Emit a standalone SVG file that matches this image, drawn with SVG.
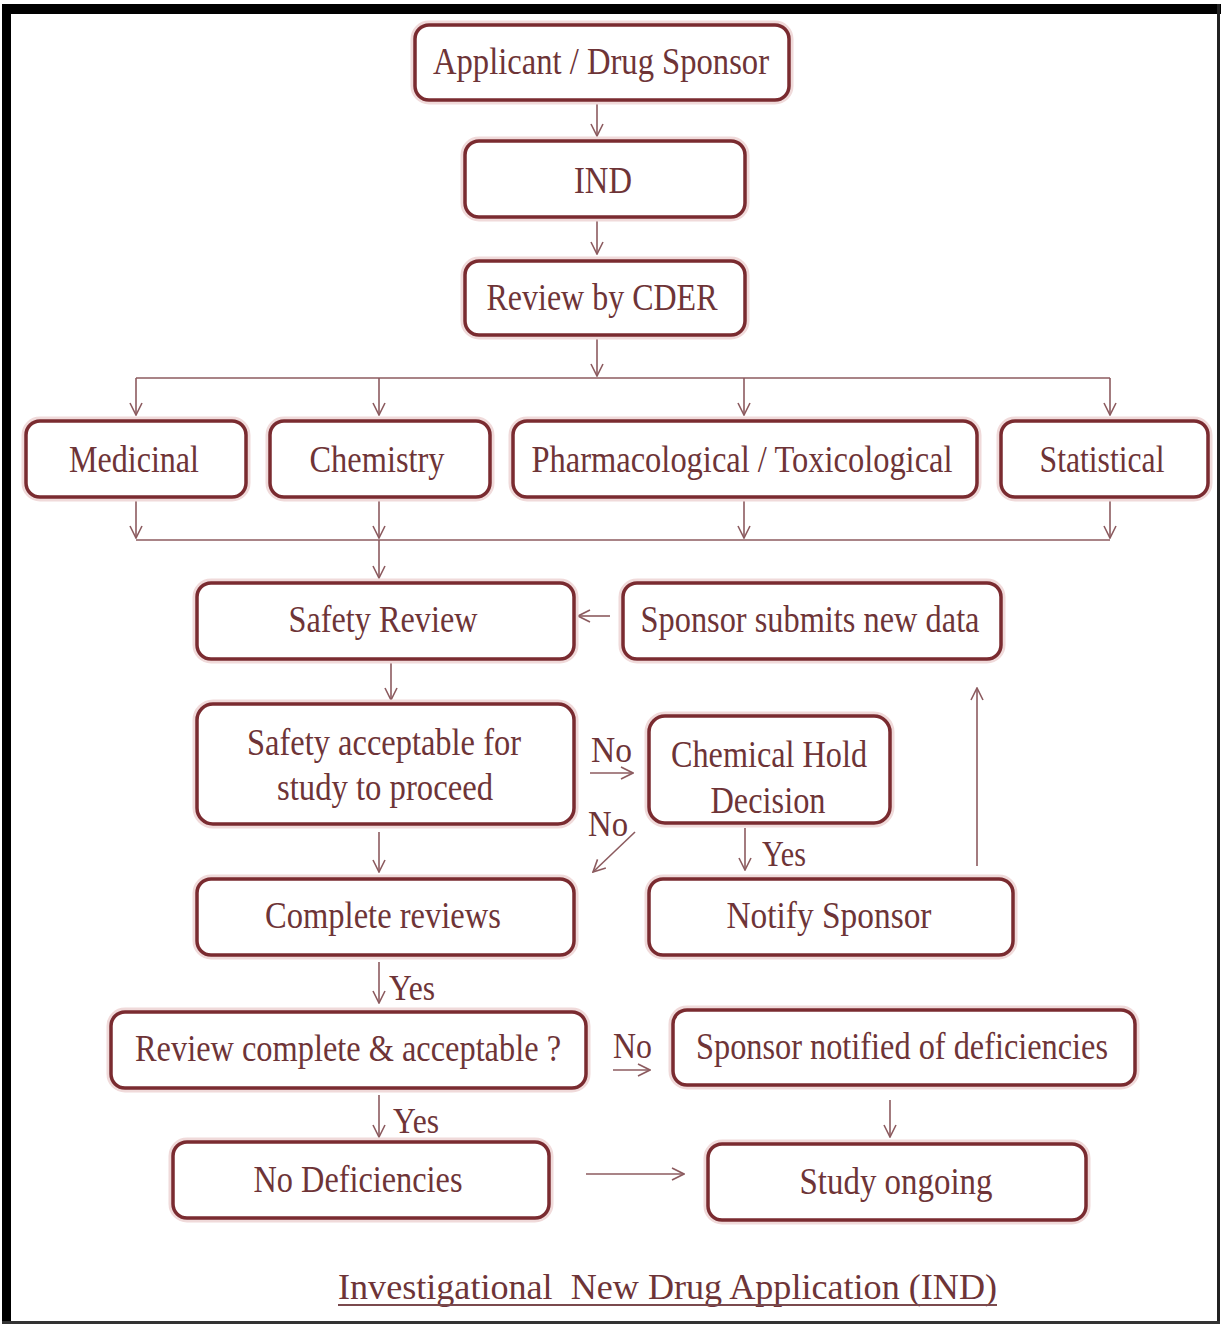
<svg xmlns="http://www.w3.org/2000/svg" width="1223" height="1327" viewBox="0 0 1223 1327">
<style>
.box{fill:#ffffff;stroke:#7a2b30;stroke-width:3.5}
.halo{fill:none;stroke:#f0dada;stroke-width:9}
.t{font-family:"Liberation Serif","Times New Roman",serif;font-size:38px;fill:#6e3437;text-anchor:middle}
.lbl{font-family:"Liberation Serif","Times New Roman",serif;font-size:36px;fill:#6e3437}
.c{fill:none;stroke:#8c5b5f;stroke-width:1.6}
.ca{fill:none;stroke:#8c5b5f;stroke-width:1.6;marker-end:url(#ah)}
</style>
<defs>
<marker id="ah" viewBox="0 0 14 14" refX="13" refY="7" markerWidth="14" markerHeight="14" markerUnits="userSpaceOnUse" orient="auto">
<path d="M1,1 L13,7 L1,13" fill="none" stroke="#8c5b5f" stroke-width="1.6"/>
</marker>
</defs>
<rect x="0" y="0" width="1223" height="1327" fill="#ffffff"/>
<g id="frame">
<rect x="2" y="4" width="9" height="1320" fill="#000"/>
<rect x="2" y="4" width="1219" height="10" fill="#000"/>
<rect x="1217" y="4" width="3" height="1320" fill="#222"/>
<rect x="2" y="1321" width="1218" height="3" fill="#333"/>
</g>
<g id="connectors">
<path class="ca" d="M597,101 V136"/>
<path class="ca" d="M597,218 V254"/>
<path class="ca" d="M597,336 V376"/>
<path class="c" d="M136,378 H1110"/>
<path class="ca" d="M136,378 V415"/>
<path class="ca" d="M379,378 V415"/>
<path class="ca" d="M744,378 V415"/>
<path class="ca" d="M1110,378 V415"/>
<path class="ca" d="M136,499 V538"/>
<path class="ca" d="M379,499 V538"/>
<path class="ca" d="M744,499 V538"/>
<path class="ca" d="M1110,499 V538"/>
<path class="c" d="M136,540 H1110"/>
<path class="ca" d="M379,540 V578"/>
<path class="ca" d="M610,616 H578"/>
<path class="ca" d="M391,662 V700"/>
<path class="ca" d="M590,773 H633"/>
<path class="ca" d="M635,832 L593,872"/>
<path class="ca" d="M745,828 V870"/>
<path class="ca" d="M977,866 V688"/>
<path class="ca" d="M379,832 V872"/>
<path class="ca" d="M379,962 V1003"/>
<path class="ca" d="M613,1070 H650"/>
<path class="ca" d="M379,1095 V1137"/>
<path class="ca" d="M890,1100 V1137"/>
<path class="ca" d="M586,1174 H684"/>
</g>
<g id="n1"><rect class="halo" x="415" y="25" width="374" height="75" rx="14"/><rect class="box" x="415" y="25" width="374" height="75" rx="14"/><text class="t" x="601" y="74" textLength="336" lengthAdjust="spacingAndGlyphs">Applicant / Drug Sponsor</text></g>
<g id="n2"><rect class="halo" x="465" y="141" width="280" height="76" rx="14"/><rect class="box" x="465" y="141" width="280" height="76" rx="14"/><text class="t" x="603" y="193" textLength="58" lengthAdjust="spacingAndGlyphs">IND</text></g>
<g id="n3"><rect class="halo" x="465" y="261" width="280" height="74" rx="14"/><rect class="box" x="465" y="261" width="280" height="74" rx="14"/><text class="t" x="602" y="310" textLength="231" lengthAdjust="spacingAndGlyphs">Review by CDER</text></g>
<g id="n4"><rect class="halo" x="26" y="421" width="220" height="76" rx="14"/><rect class="box" x="26" y="421" width="220" height="76" rx="14"/><text class="t" x="134" y="472" textLength="130" lengthAdjust="spacingAndGlyphs">Medicinal</text></g>
<g id="n5"><rect class="halo" x="270" y="421" width="220" height="76" rx="14"/><rect class="box" x="270" y="421" width="220" height="76" rx="14"/><text class="t" x="377" y="472" textLength="135" lengthAdjust="spacingAndGlyphs">Chemistry</text></g>
<g id="n6"><rect class="halo" x="513" y="421" width="464" height="76" rx="14"/><rect class="box" x="513" y="421" width="464" height="76" rx="14"/><text class="t" x="742" y="472" textLength="421" lengthAdjust="spacingAndGlyphs">Pharmacological / Toxicological</text></g>
<g id="n7"><rect class="halo" x="1001" y="421" width="207" height="76" rx="14"/><rect class="box" x="1001" y="421" width="207" height="76" rx="14"/><text class="t" x="1102" y="472" textLength="125" lengthAdjust="spacingAndGlyphs">Statistical</text></g>
<g id="n8"><rect class="halo" x="197" y="583" width="377" height="76" rx="14"/><rect class="box" x="197" y="583" width="377" height="76" rx="14"/><text class="t" x="383" y="632" textLength="189" lengthAdjust="spacingAndGlyphs">Safety Review</text></g>
<g id="n9"><rect class="halo" x="623" y="583" width="378" height="76" rx="14"/><rect class="box" x="623" y="583" width="378" height="76" rx="14"/><text class="t" x="810" y="632" textLength="339" lengthAdjust="spacingAndGlyphs">Sponsor submits new data</text></g>
<g id="n10"><rect class="halo" x="197" y="704" width="377" height="120" rx="16"/><rect class="box" x="197" y="704" width="377" height="120" rx="16"/><text class="t" x="384" y="755" textLength="274" lengthAdjust="spacingAndGlyphs">Safety acceptable for</text><text class="t" x="385" y="800" textLength="216" lengthAdjust="spacingAndGlyphs">study to proceed</text></g>
<g id="n11"><rect class="halo" x="649" y="716" width="241" height="107" rx="16"/><rect class="box" x="649" y="716" width="241" height="107" rx="16"/><text class="t" x="769" y="767" textLength="196" lengthAdjust="spacingAndGlyphs">Chemical Hold</text><text class="t" x="768" y="813" textLength="115" lengthAdjust="spacingAndGlyphs">Decision</text></g>
<g id="n12"><rect class="halo" x="649" y="879" width="364" height="76" rx="14"/><rect class="box" x="649" y="879" width="364" height="76" rx="14"/><text class="t" x="829" y="928" textLength="205" lengthAdjust="spacingAndGlyphs">Notify Sponsor</text></g>
<g id="n13"><rect class="halo" x="197" y="879" width="377" height="76" rx="14"/><rect class="box" x="197" y="879" width="377" height="76" rx="14"/><text class="t" x="383" y="928" textLength="236" lengthAdjust="spacingAndGlyphs">Complete reviews</text></g>
<g id="n14"><rect class="halo" x="111" y="1012" width="475" height="76" rx="14"/><rect class="box" x="111" y="1012" width="475" height="76" rx="14"/><text class="t" x="348" y="1061" textLength="426" lengthAdjust="spacingAndGlyphs">Review complete &amp; acceptable ?</text></g>
<g id="n15"><rect class="halo" x="673" y="1010" width="462" height="75" rx="14"/><rect class="box" x="673" y="1010" width="462" height="75" rx="14"/><text class="t" x="902" y="1059" textLength="412" lengthAdjust="spacingAndGlyphs">Sponsor notified of deficiencies</text></g>
<g id="n16"><rect class="halo" x="173" y="1142" width="376" height="76" rx="14"/><rect class="box" x="173" y="1142" width="376" height="76" rx="14"/><text class="t" x="358" y="1192" textLength="209" lengthAdjust="spacingAndGlyphs">No Deficiencies</text></g>
<g id="n17"><rect class="halo" x="708" y="1144" width="378" height="76" rx="14"/><rect class="box" x="708" y="1144" width="378" height="76" rx="14"/><text class="t" x="896" y="1194" textLength="193" lengthAdjust="spacingAndGlyphs">Study ongoing</text></g>
<g id="labels">
<text class="lbl" x="591" y="762" textLength="41" lengthAdjust="spacingAndGlyphs">No</text>
<text class="lbl" x="588" y="836" textLength="40" lengthAdjust="spacingAndGlyphs">No</text>
<text class="lbl" x="762" y="866" textLength="44" lengthAdjust="spacingAndGlyphs">Yes</text>
<text class="lbl" x="389" y="1000" textLength="46" lengthAdjust="spacingAndGlyphs">Yes</text>
<text class="lbl" x="613" y="1058" textLength="39" lengthAdjust="spacingAndGlyphs">No</text>
<text class="lbl" x="393" y="1133" textLength="46" lengthAdjust="spacingAndGlyphs">Yes</text>
</g>
<g id="title">
<text class="lbl" x="338" y="1299" font-size="40" textLength="659" lengthAdjust="spacingAndGlyphs" xml:space="preserve">Investigational  New Drug Application (IND)</text>
<line x1="338" y1="1305" x2="997" y2="1305" stroke="#7a4a4e" stroke-width="1.8"/>
</g>
</svg>
